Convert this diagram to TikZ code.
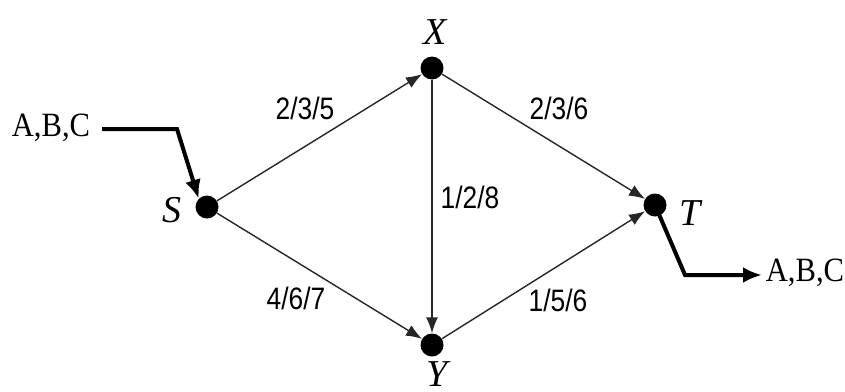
\documentclass[tikz,border=0pt]{standalone}
\usepackage{fontspec}
\setmainfont{Liberation Serif}
\newfontfamily\labfont[FakeStretch=0.85]{Liberation Sans}
\newfontfamily\iofont[FakeStretch=0.9]{Liberation Serif}
\usetikzlibrary{arrows.meta}
\begin{document}
\begin{tikzpicture}[x=1pt,y=-1pt,
  dot/.style={circle,fill=black,minimum size=23pt,inner sep=0pt},
  edge/.style={line width=1.4pt,draw=black!85,-{Latex[length=16pt,width=12pt]}},
  flow/.style={line width=4pt,-{Latex[length=19pt,width=16pt]}},
  elab/.style={font=\labfont\fontsize{31}{31}\selectfont,inner sep=0pt},
  nlab/.style={font=\fontsize{38}{38}\selectfont\itshape,inner sep=0pt},
  iolab/.style={font=\iofont\fontsize{34}{34}\selectfont,inner sep=0pt}]
\useasboundingbox (0,0) rectangle (845,391);
\node[dot] (S) at (207,207) {};
\node[dot] (X) at (432,68) {};
\node[dot] (Y) at (432,345) {};
\node[dot] (T) at (655,205) {};
\node[nlab] (Sl) at (172,210) {S};
\node[nlab] (Xl) at (435,32) {X};
\node[nlab] (Yl) at (437,374) {Y};
\node[nlab] (Tl) at (690,213) {T};
\draw[edge] (S) -- (X);
\draw[edge] (S) -- (Y);
\draw[edge] (X) -- (Y);
\draw[edge] (X) -- (T);
\draw[edge] (Y) -- (T);
\node[elab] (l1) at (305,108) {2/3/5};
\node[elab] (l2) at (559,108) {2/3/6};
\node[elab] (l3) at (470,197) {1/2/8};
\node[elab] (l4) at (296,298) {4/6/7};
\node[elab] (l5) at (558,300) {1/5/6};
\node[iolab] (in) at (51,128) {A,B,C};
\node[iolab] (out) at (805,273) {A,B,C};
\coordinate (i0) at (102,129);
\coordinate (i1) at (177,129);
\coordinate (o1) at (685,275);
\coordinate (o2) at (762,275);
\draw[flow] (i0) -- (i1) -- (S.north west);
\draw[flow] (T.center) -- (o1) -- (o2);
\end{tikzpicture}
\end{document}
